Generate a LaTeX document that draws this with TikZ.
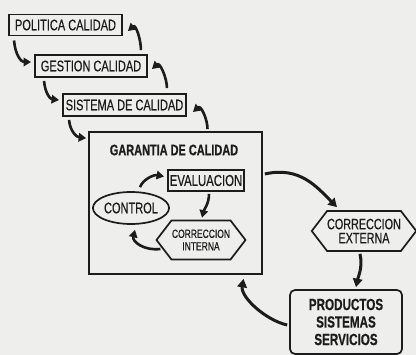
\documentclass[tikz,border=0pt]{standalone}
\usepackage{fontspec}
\setmainfont{Liberation Sans}[FakeStretch=0.72,FakeBold=0.5]
\usetikzlibrary{arrows.meta,shapes.geometric,shapes.symbols}
\definecolor{bg}{RGB}{238,238,236}
\definecolor{ink}{RGB}{28,28,28}
\begin{document}
\begin{tikzpicture}[x=1pt,y=-1pt,
  txt/.style={font=\fontsize{15.3}{17}\selectfont, text=ink, inner sep=0pt},
  boxn/.style={txt, draw=ink, line width=1.9pt},
  hexn/.style={txt, draw=ink, line width=1.7pt, signal, signal to=east and west, signal pointer angle=105, align=center},
  arr/.style={draw=ink, line width=3pt, -{Triangle[length=8.5pt,width=9.5pt]}},
  sarr/.style={draw=ink, line width=2.6pt, -{Triangle[length=7.5pt,width=8.5pt]}}
]
\fill[bg] (0,0) rectangle (416,355);
\useasboundingbox (0,0) rectangle (416,355);

\node[boxn, minimum width=113pt, minimum height=21pt] (pol) at (65.5,25) {POLITICA CALIDAD};
\node[boxn, minimum width=112pt, minimum height=22pt] (ges) at (91,66) {GESTION CALIDAD};
\node[boxn, minimum width=123pt, minimum height=22pt] (sis) at (124.5,105) {SISTEMA DE CALIDAD};
\node[draw=ink, line width=1.7pt, minimum width=173pt, minimum height=142pt, inner sep=0pt] (gar) at (175.5,203) {};
\node[txt, font=\fontsize{15.2}{17}\selectfont\bfseries] (tit) at (174,150) {GARANTIA DE CALIDAD};
\node[boxn, minimum width=76pt, minimum height=21pt, font=\fontsize{15.8}{17}\selectfont] (eva) at (206,180.5) {EVALUACION};
\node[txt, draw=ink, line width=1.7pt, ellipse, minimum width=62pt, minimum height=32pt] (con) at (131,208) {CONTROL};
\node[hexn, minimum width=89pt, minimum height=39pt, font=\fontsize{11.8}{12.5}\selectfont] (ci) at (201,240) {CORRECCION\\INTERNA};
\node[hexn, minimum width=102pt, minimum height=40pt, font=\fontsize{15}{14}\selectfont] (ce) at (364,231) {CORRECCION\\EXTERNA};
\node[txt, draw=ink, line width=1.7pt, rounded corners=5pt, minimum width=112pt, minimum height=64pt, align=center, font=\fontsize{16.2}{17.5}\selectfont\bfseries] (pro) at (346,322) {PRODUCTOS\\SISTEMAS\\SERVICIOS};

% downward steps
\draw[sarr] ([shift={(6,4)}]pol.south west) .. controls +(1,14) and +(-10,0) .. ([shift={(-3,-4)}]ges.west);
\draw[sarr] ([shift={(10,3)}]ges.south west) .. controls +(1,12) and +(-9,-1) .. ([shift={(-3,-5)}]sis.west);
\draw[sarr] ([shift={(7,3)}]sis.south west) .. controls +(1,12) and +(-9,-1) .. ([shift={(-2,7)}]gar.north west);
% upward steps
\draw[sarr] ([shift={(-7,-4)}]ges.north east) .. controls +(0,-10) and +(8,-7) .. ([shift={(5,6)}]pol.east);
\draw[sarr] ([shift={(-20,-5)}]sis.north east) .. controls +(0,-10) and +(8,-7) .. ([shift={(4,3)}]ges.east);
\draw[sarr] ([shift={(32,-2)}]gar.north) .. controls +(0,-10) and +(8,-7) .. ([shift={(6,7)}]sis.east);
% outer loop
\draw[arr] ([shift={(2,-29)}]gar.east) .. controls +(35,-8) and +(-20,-20) .. ([shift={(-27,-3)}]ce.north);
\draw[arr] ([shift={(-4,2)}]ce.south) .. controls +(3,14) and +(2,-10) .. ([shift={(10,-2)}]pro.north);
\draw[arr] ([shift={(-2,3)}]pro.west) .. controls +(-22,-5) and +(-3,18) .. ([shift={(68,4)}]gar.south);
% inner loop
\draw[sarr] ([shift={(9,-4)}]con.north) .. controls +(3,-8) and +(-10,-2) .. ([shift={(-3,-4)}]eva.west);
\draw[sarr] ([shift={(3,2)}]eva.south) .. controls +(0,10) and +(2,-8) .. ([shift={(1,-2)}]ci.north);
\draw[sarr] ([shift={(5,9)}]ci.west) .. controls +(-16,2) and +(-3,12) .. ([shift={(4,5)}]con.south);
\end{tikzpicture}
\end{document}
